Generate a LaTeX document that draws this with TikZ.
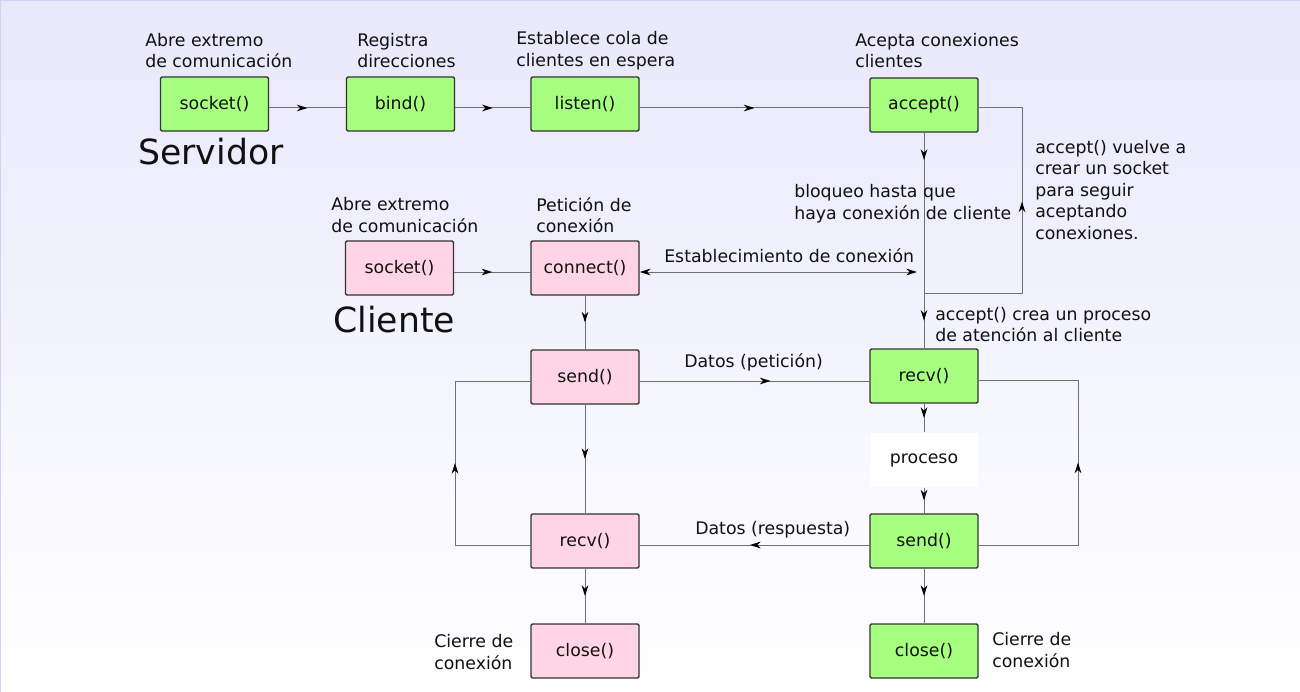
\documentclass[tikz,border=0pt]{standalone}
\usepackage{fontspec}
\setmainfont{DejaVu Sans}
\usetikzlibrary{decorations.markings, arrows.meta}
\definecolor{boxgreen}{HTML}{A6FF7F}
\definecolor{boxpink}{HTML}{FFD5E5}
\definecolor{bgtop}{HTML}{E8E8FC}
\definecolor{bgedge}{HTML}{D2D2F4}
\definecolor{linegray}{HTML}{707070}

\begin{document}
\begin{tikzpicture}[x=0.75pt,y=0.75pt,yscale=-1,xscale=1,
    every node/.style={font=\fontsize{13}{16.1}\selectfont, text={rgb,255:red,17;green,17;blue,17}},
    fbox/.style={draw={rgb,255:red,51;green,51;blue,51}, line width=1.1pt, rounded corners=1pt, minimum width=81pt, minimum height=40.5pt, inner sep=0pt},
    srv/.style={fbox, fill=boxgreen},
    cli/.style={fbox, fill=boxpink},
    wire/.style={draw=linegray, line width=0.75pt},
    tipS/.tip={Stealth[length=8pt,width=5pt,inset=2.5pt,color=black]},
    midarrow/.style={wire, postaction={decorate}, decoration={markings, mark=at position #1 with {\arrow{tipS}}}},
    midarrow/.default=0.5,
    note/.style={anchor=west, inner sep=0.75pt, align=left}]
        \useasboundingbox (0,0) rectangle (1300,692);
        %Background
        \fill [top color=bgtop, bottom color=white] (0,0) rectangle (1300,692);
        \draw [bgedge, line width=1pt] (0.5,692) -- (0.5,0.5) -- (1300,0.5);

        %Server boxes
        \node [srv] (sockS) at (214.5,104) {socket()};
        \node [srv] (bindS) at (400.5,104) {bind()};
        \node [srv] (listenS) at (585,104) {listen()};
        \node [srv] (acceptS) at (924,105) {accept()};
        \node [srv] (recvS) at (924,376) {recv()};
        \node [fbox, draw=none, fill=white] (procS) at (924,460) {proceso};
        \node [srv] (sendS) at (924,541) {send()};
        \node [srv] (closeS) at (924,651) {close()};
        %Client boxes
        \node [cli] (sockC) at (399.5,268) {socket()};
        \node [cli] (connectC) at (585,268) {connect()};
        \node [cli] (sendC) at (585,377) {send()};
        \node [cli] (recvC) at (585,541) {recv()};
        \node [cli] (closeC) at (585,651) {close()};

        %Server connectors
        \draw [midarrow] ([yshift=3pt]sockS.east) -- ([yshift=3pt]bindS.west);
        \draw [midarrow] ([yshift=3pt]bindS.east) -- ([yshift=3pt]listenS.west);
        \draw [midarrow] ([yshift=3pt]listenS.east) -- ([yshift=3pt]listenS.east -| acceptS.west);
        \coordinate (joinA) at (924,293);
        \coordinate (loopA) at (1022,293);
        \draw [midarrow=0.17] (acceptS) -- (joinA);
        \draw [midarrow] (joinA) -- (recvS);
        \draw [midarrow=0.58] (joinA) -- (loopA) -- ([yshift=2pt]loopA |- acceptS.east) -- ([yshift=2pt]acceptS.east);
        \draw [midarrow] (recvS) -- (procS);
        \draw [midarrow] (procS) -- (sendS);
        \draw [midarrow] (sendS) -- (closeS);
        \coordinate (loopS) at (1078,460);
        \draw [midarrow] ([yshift=3pt]sendS.east) -- ([yshift=3pt]sendS.east -| loopS) -- ([yshift=3pt]recvS.east -| loopS) -- ([yshift=3pt]recvS.east);

        %Client connectors
        \coordinate (estab) at (917,268);
        \draw [wire, tipS-tipS] ([yshift=3pt]connectC.east) -- ([yshift=3pt]estab);
        \draw [midarrow] ([yshift=3pt]sockC.east) -- ([yshift=3pt]connectC.west);
        \draw [midarrow] (connectC) -- (sendC);
        \draw [midarrow] (sendC) -- (recvC);
        \draw [midarrow] (recvC) -- (closeC);
        \coordinate (loopC) at (455,460);
        \draw [midarrow] ([yshift=3pt]recvC.west) -- ([yshift=3pt]recvC.west -| loopC) -- ([yshift=3pt]sendC.west -| loopC) -- ([yshift=3pt]sendC.west);
        %Data
        \draw [midarrow=0.57] ([yshift=3pt]sendC.east) -- ([yshift=3pt]sendC.east -| recvS.west);
        \draw [midarrow=0.52] ([yshift=3pt]sendS.west) -- ([yshift=3pt]recvC.east);

        % Text Node
        \node [note] (tSock) at (144,50.5) {Abre extremo\\de comunicación};
        % Text Node
        \node [note] (tBind) at (356,50.5) {Registra\\direcciones};
        % Text Node
        \node [note] (tListen) at (515,50.5) {Establece cola de\\clientes en espera};
        % Text Node
        \node [note] (tAccept) at (854,50.5) {Acepta conexiones\\clientes};
        % Text Node
        \node [note, font=\fontsize{26}{31}\selectfont] (tServ) at (137,152) {Servidor};
        % Text Node
        \node [note] (tLoop) at (1034,190) {accept() vuelve a\\crear un socket\\para seguir\\aceptando\\conexiones.};
        % Text Node
        \node [note] (tBlock) at (793,203.5) {bloqueo hasta que\\haya conexión de cliente};
        % Text Node
        \node [note] (tEstab) at (663,256) {Establecimiento de conexión};
        % Text Node
        \node [note] (tProc) at (934,324.5) {accept() crea un proceso\\de atención al cliente};
        % Text Node
        \node [note] (tSockC) at (330,215) {Abre extremo\\de comunicación};
        % Text Node
        \node [note] (tConn) at (535,215) {Petición de\\conexión};
        % Text Node
        \node [note, font=\fontsize{26}{31}\selectfont] (tCli) at (332,320) {Cliente};
        % Text Node
        \node [note] (tPet) at (683,362) {Datos (petición)};
        % Text Node
        \node [note] (tResp) at (694,530) {Datos (respuesta)};
        % Text Node
        \node [note] (tCloseC) at (433,652) {Cierre de\\conexión};
        % Text Node
        \node [note] (tCloseS) at (991,650) {Cierre de\\conexión};
\end{tikzpicture}
\end{document}
